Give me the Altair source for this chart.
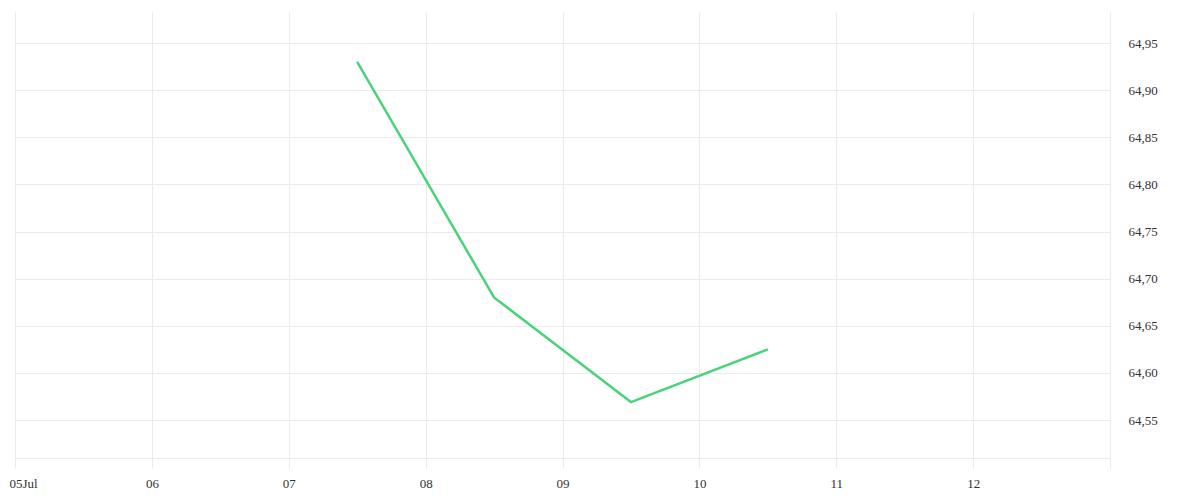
import altair as alt
import pandas as pd

# Data
dates = ["2023-07-07T12:00:00Z", "2023-07-08T12:00:00Z", "2023-07-09T12:00:00Z", "2023-07-10T12:00:00Z"]
values = [64.93, 64.68, 64.569, 64.625]
tick_days = [5, 6, 7, 8, 9, 10, 11, 12, 13]
y_ticks = [64.55, 64.60, 64.65, 64.70, 64.75, 64.80, 64.85, 64.90, 64.95]

df = pd.DataFrame({"date": dates, "value": values})

GRID = "#ebebeb"
FONT = "Liberation Serif"

x_domain = [alt.DateTime(year=2023, month=7, date=5, utc=True),
            alt.DateTime(year=2023, month=7, date=13, utc=True)]
x_values = [alt.DateTime(year=2023, month=7, date=d, utc=True) for d in tick_days]

label_expr = ("utcFormat(datum.value, '%d') == '05' ? utcFormat(datum.value, '%d%b') : "
              "(utcFormat(datum.value, '%d') == '13' ? '' : utcFormat(datum.value, '%d'))")
first_test = "utcFormat(datum.value, '%d') == '05'"

chart = alt.Chart(df).mark_line(color="#4ad37a", strokeWidth=2.5).encode(
    x=alt.X("date:T",
            scale=alt.Scale(type="utc", domain=x_domain, nice=False),
            axis=alt.Axis(title=None, values=x_values, labelExpr=label_expr,
                          grid=True, gridColor=GRID, gridWidth=1,
                          domain=True, domainColor=GRID, domainWidth=1,
                          ticks=True, tickColor=GRID, tickSize=10, tickWidth=1,
                          labelPadding=9, labelFont=FONT, labelFontSize=13,
                          labelFlush=True, labelOverlap=False,
                          labelOffset={"condition": {"test": first_test, "value": -6}, "value": 0},
                          labelColor="#333333", labelAngle=0)),
    y=alt.Y("value:Q",
            scale=alt.Scale(domain=[64.5097, 64.9829], nice=False, zero=False),
            axis=alt.Axis(title=None, orient="right", values=y_ticks,
                          labelExpr="replace(format(datum.value, '.2f'), '.', ',')",
                          grid=True, gridColor=GRID, gridWidth=1,
                          domain=False, ticks=False, tickSize=0,
                          labelPadding=18, labelFont=FONT, labelFontSize=13,
                          labelFlush=False,
                          labelColor="#333333", labelAlign="left", labelBaseline="middle")),
).properties(
    width=1095,
    height=446,
    autosize=alt.AutoSizeParams(type="none"),
    padding={"left": 7, "top": 4, "right": 80, "bottom": 36},
    background="white",
).configure_view(stroke=None)

chart.save("out.html", embed_options={"renderer": "svg", "actions": False})
